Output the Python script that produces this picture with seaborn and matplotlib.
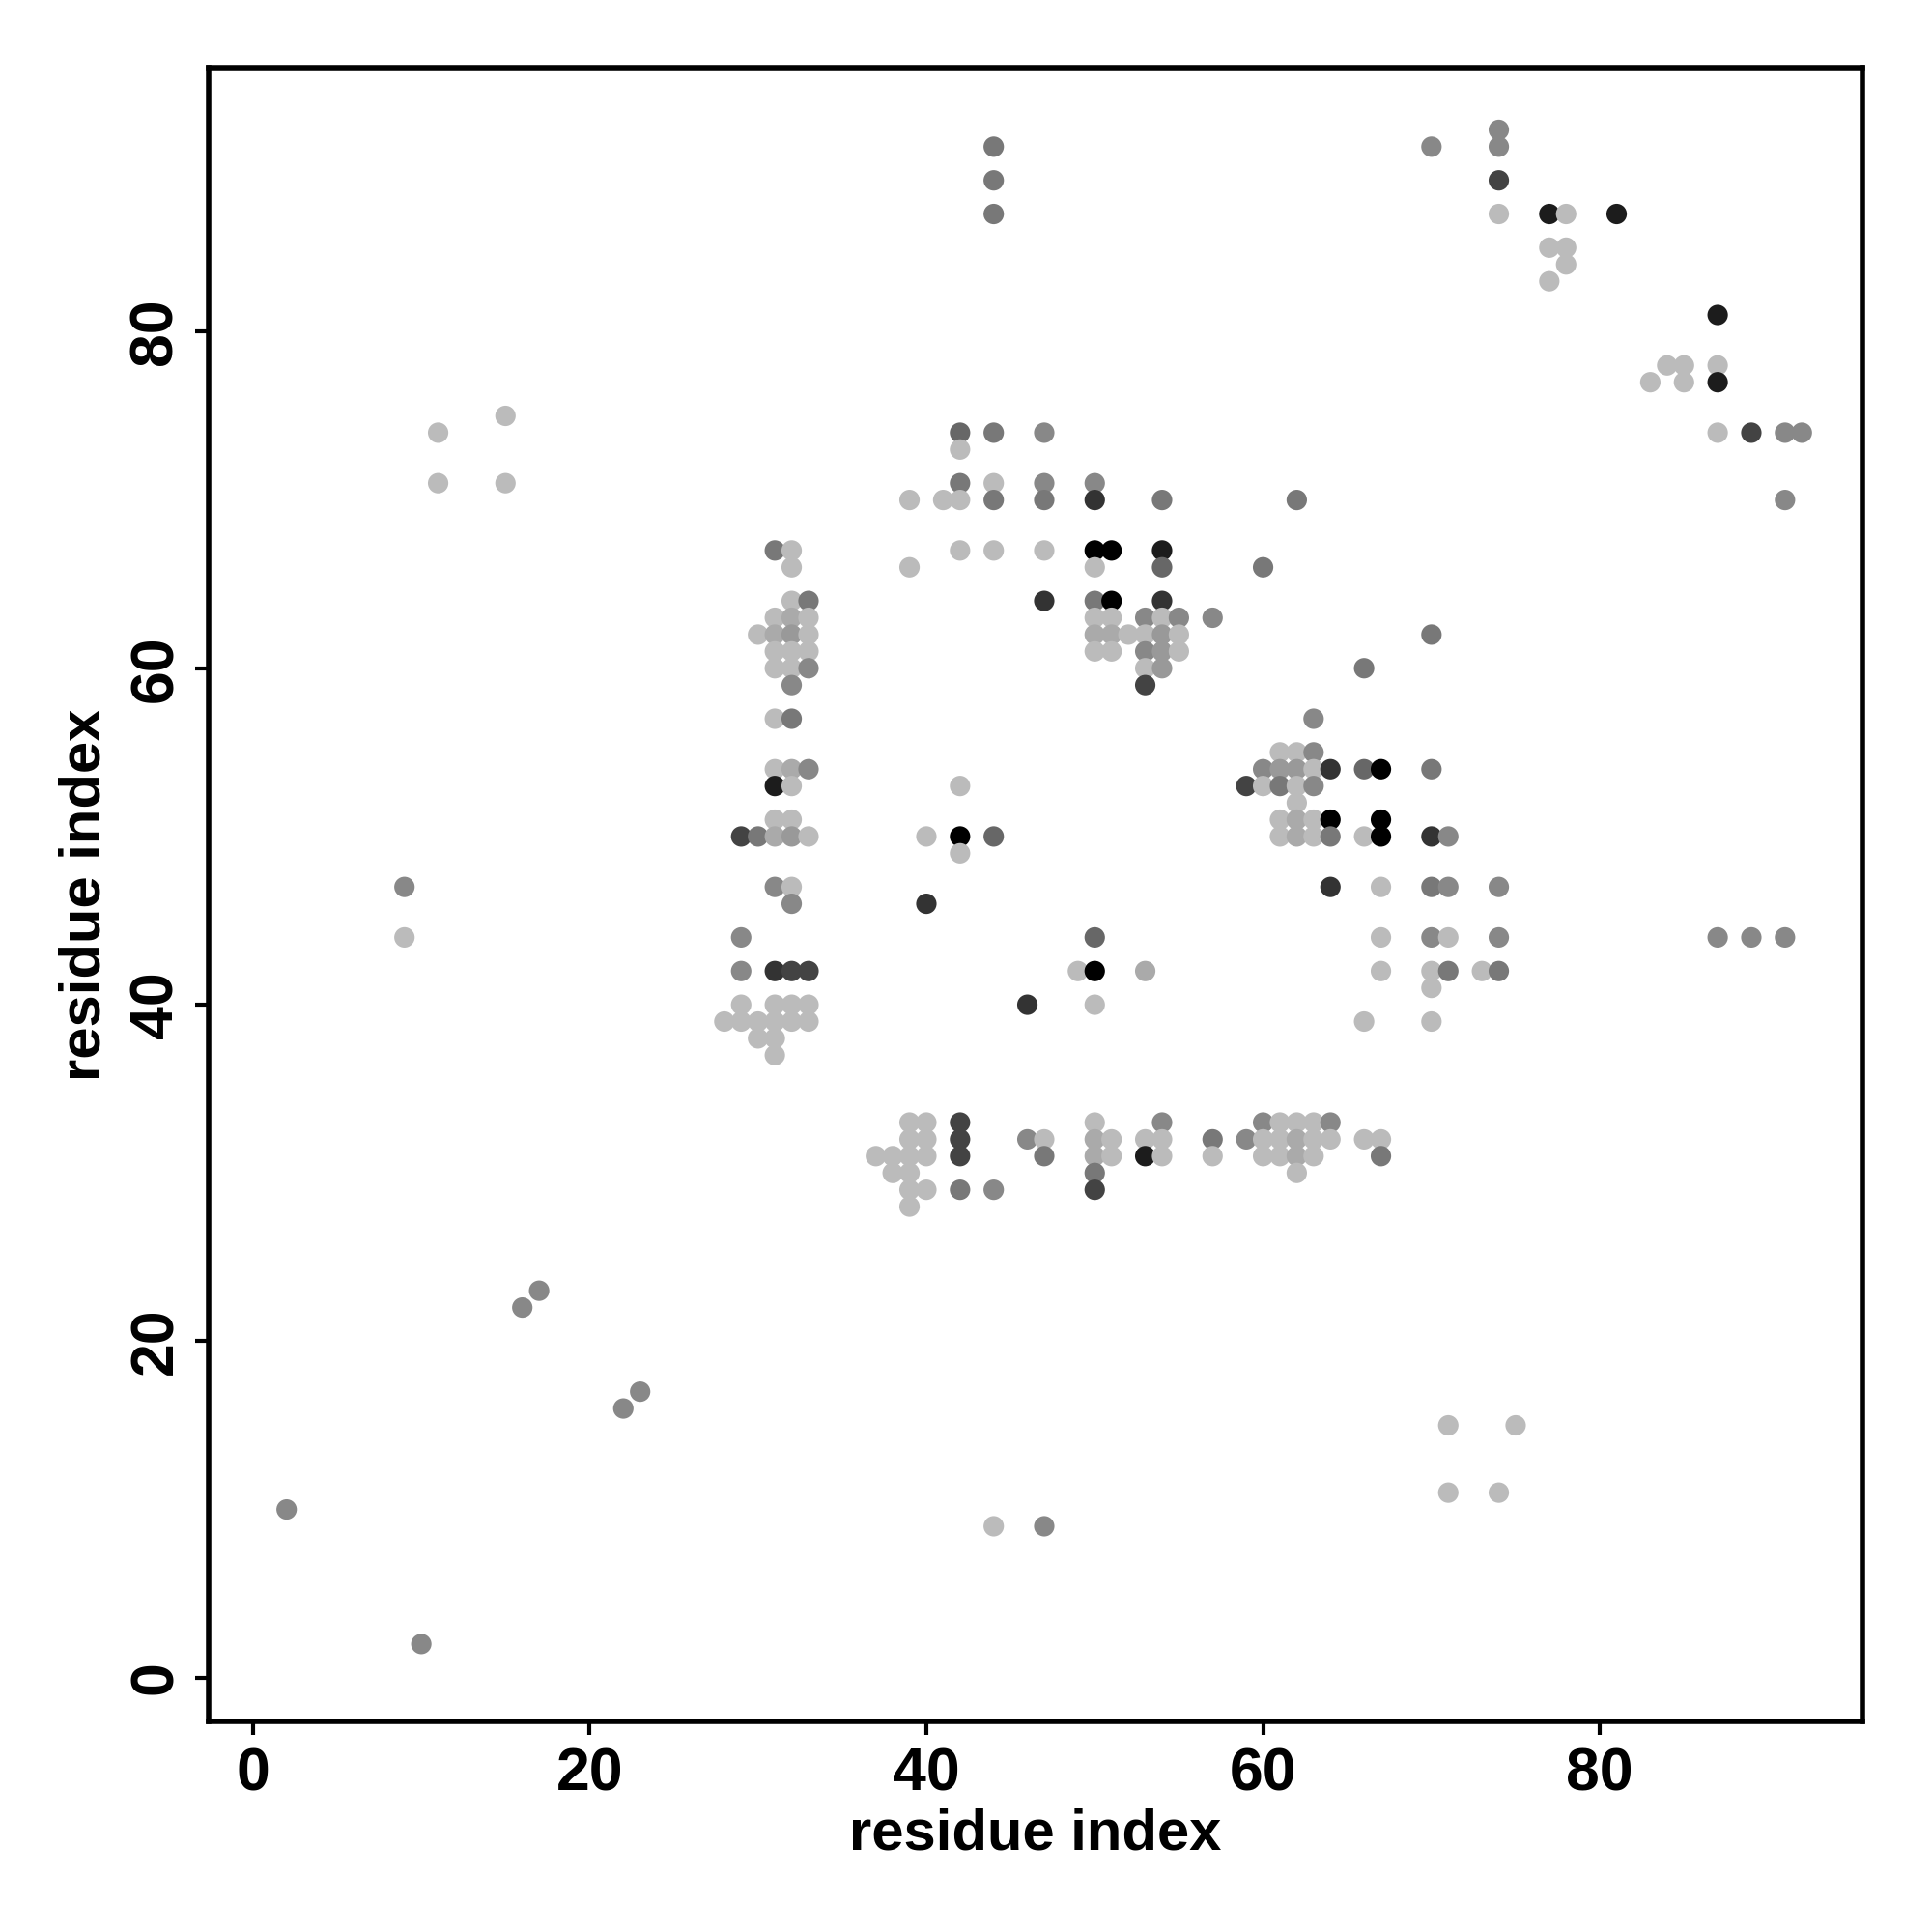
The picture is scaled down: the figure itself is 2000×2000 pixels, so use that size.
import pandas as pd
import matplotlib.pyplot as plt
import seaborn as sns
from matplotlib.colors import LinearSegmentedColormap

# contact strength levels (0 = weakest / light grey, 1 = strongest / black)
L, A, N, M, S, D6, D, K, X, B = 0.0, 0.09, 0.18, 0.27, 0.36, 0.45, 0.64, 0.73, 0.85, 1.0

res_i = [
    2, 10, 16, 17, 22, 23, 9, 9, 11, 11, 15, 15,
    44, 44, 44, 44, 47, 71, 75, 71, 74, 87, 89, 91,
    70, 74, 74, 74, 74, 77, 78, 81, 77, 78, 78, 77, 87, 84, 85, 87, 83, 85, 87, 87, 89, 91, 92, 91,
    42, 44, 47, 42, 42, 44, 47, 50, 39, 41, 42, 44, 47, 50, 54, 42, 44, 47, 50, 51, 54, 39, 50, 54,
    47, 50, 51, 54, 50, 51, 53, 54, 55, 57, 50, 51, 52, 53, 54, 55, 50, 51, 53, 54, 55, 53, 54, 53,
    62, 60, 66, 70,
    31, 32, 32, 32, 33, 31, 32, 33, 30, 31, 32, 33, 31, 32, 33, 31, 32, 33, 32, 31, 32, 31, 32, 33,
    31, 32, 31, 32, 29, 30, 31, 32, 33, 31, 32, 32, 29, 29, 31, 32, 33, 29, 31, 32, 33,
    28, 29, 30, 31, 32, 33, 30, 31, 31,
    37, 38, 38, 39, 39, 39, 39, 39, 39, 40, 40, 40, 40, 42, 42, 42, 42, 44, 46, 47, 47,
    50, 50, 50, 50, 50, 51, 51, 53, 53, 54, 54, 54, 57, 57, 59, 60, 60, 60, 61, 61, 61,
    62, 62, 62, 62, 63, 63, 63, 64, 64, 66, 67, 67,
    42, 40, 42, 44, 42, 40, 50, 49, 50, 53, 46, 50,
    63, 61, 62, 63, 60, 61, 62, 63, 64, 66, 67, 70, 59, 60, 61, 62, 63, 62, 61, 62, 63, 64, 67,
    61, 62, 63, 64, 66, 67, 70, 71, 64, 67, 70, 71, 74, 67, 70, 71, 74, 67, 70, 71, 73, 74, 70, 66, 70,
]

res_j = [
    10, 2, 22, 23, 16, 17, 47, 44, 74, 71, 75, 71,
    91, 89, 87, 9, 9, 15, 15, 11, 11, 44, 44, 44,
    91, 92, 91, 89, 87, 87, 87, 87, 85, 85, 84, 83, 81, 78, 78, 78, 77, 77, 77, 74, 74, 74, 74, 70,
    74, 74, 74, 73, 71, 71, 71, 71, 70, 70, 70, 70, 70, 70, 70, 67, 67, 67, 67, 67, 67, 66, 66, 66,
    64, 64, 64, 64, 63, 63, 63, 63, 63, 63, 62, 62, 62, 62, 62, 62, 61, 61, 61, 61, 61, 60, 60, 59,
    70, 66, 60, 62,
    67, 67, 66, 64, 64, 63, 63, 63, 62, 62, 62, 62, 61, 61, 61, 60, 60, 60, 59, 57, 57, 54, 54, 54,
    53, 53, 51, 51, 50, 50, 50, 50, 50, 47, 47, 46, 44, 42, 42, 42, 42, 40, 40, 40, 40,
    39, 39, 39, 39, 39, 39, 38, 38, 37,
    31, 31, 30, 33, 32, 31, 30, 29, 28, 33, 32, 31, 29, 33, 32, 31, 29, 29, 32, 32, 31,
    33, 32, 31, 30, 29, 32, 31, 32, 31, 33, 32, 31, 32, 31, 32, 33, 32, 31, 33, 32, 31,
    33, 32, 31, 30, 33, 32, 31, 33, 32, 32, 32, 31,
    53, 50, 50, 50, 49, 46, 44, 42, 42, 42, 40, 40,
    57, 55, 55, 55, 54, 54, 54, 54, 54, 54, 54, 54, 53, 53, 53, 53, 53, 52, 51, 51, 51, 51, 51,
    50, 50, 50, 50, 50, 50, 50, 50, 47, 47, 47, 47, 47, 44, 44, 44, 44, 42, 42, 42, 42, 42, 41, 39, 39,
]

strength = [
    M, M, M, M, M, M, M, L, L, L, L, L,
    S, S, S, L, M, L, L, L, L, M, M, M,
    M, M, M, D, L, X, L, X, L, L, L, L, X, L, L, L, L, L, X, L, D, M, M, M,
    D6, S, M, L, S, L, M, M, L, L, L, S, S, K, S, L, L, L, B, B, X, L, L, D6,
    K, S, B, K, L, L, M, L, M, M, A, A, L, L, N, L, L, L, M, N, L, L, N, D,
    S, S, S, S,
    S, L, L, L, S, L, A, L, L, A, N, L, L, L, L, L, L, M, M, L, S, L, A, M,
    X, L, L, L, D, S, A, N, L, M, L, M, M, M, K, D, D, L, L, L, L,
    L, L, L, L, L, L, L, L, L,
    L, L, L, L, L, L, L, L, L, L, L, L, L, D, D, D, S, M, M, L, S,
    L, A, A, S, D, L, L, L, X, M, L, L, S, L, M, M, L, L, L, L, L,
    L, A, A, L, L, L, L, M, L, L, L, S,
    L, L, B, D6, L, K, D6, L, B, A, K, L,
    M, L, L, M, M, N, N, L, K, D6, B, S, D, L, S, L, M, L, L, A, L, B, B,
    L, A, L, S, L, B, K, M, K, L, S, M, M, L, M, L, M, L, L, S, L, S, L, L, L,
]

df = pd.DataFrame({"i": res_i, "j": res_j, "strength": strength})

grey_map = LinearSegmentedColormap.from_list("contact_grey", ["#bbbbbb", "#000000"])

sns.set_style("white")
plt.rcParams["font.family"] = ["Liberation Sans", "DejaVu Sans"]
plt.rcParams["font.weight"] = "bold"
plt.rcParams["text.color"] = "black"
plt.rcParams["axes.labelcolor"] = "black"
plt.rcParams["xtick.color"] = "black"
plt.rcParams["ytick.color"] = "black"

fig = plt.figure(figsize=(10, 10), dpi=200)
ax = fig.add_axes([0.108, 0.109, 0.856, 0.856])

sns.scatterplot(data=df, x="i", y="j", hue="strength", palette=grey_map, hue_norm=(0, 1),
                s=58, linewidth=0, edgecolor="none", legend=False, ax=ax)

ax.set_xlim(-2.63, 95.6)
ax.set_ylim(-2.6, 95.7)
ax.set_xticks([0, 20, 40, 60, 80])
ax.set_yticks([0, 20, 40, 60, 80])

for spine in ax.spines.values():
    spine.set_visible(True)
    spine.set_color("black")
    spine.set_linewidth(2.0)

ax.tick_params(axis="both", direction="out", length=5, width=1.5, color="black",
               labelcolor="black", labelsize=22.5, pad=4, left=True, bottom=True)
for lab in ax.get_yticklabels():
    lab.set_rotation(90)
    lab.set_va("center")
for lab in ax.get_xticklabels() + ax.get_yticklabels():
    lab.set_fontweight("bold")

ax.set_xlabel("residue index", fontsize=21.5, fontweight="bold", labelpad=2, color="black")
ax.set_ylabel("residue index", fontsize=21.5, fontweight="bold", labelpad=6, color="black")

fig.savefig("out.png", dpi=200, facecolor="white")
